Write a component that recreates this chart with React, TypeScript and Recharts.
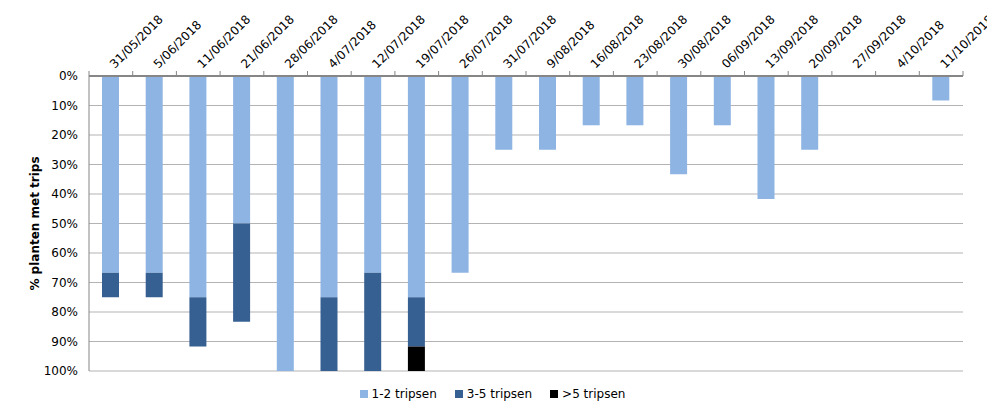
import React from "react";
import {
  BarChart,
  Bar,
  XAxis,
  YAxis,
  CartesianGrid,
  Legend,
} from "recharts";

const dates = [
  "31/05/2018",
  "5/06/2018",
  "11/06/2018",
  "21/06/2018",
  "28/06/2018",
  "4/07/2018",
  "12/07/2018",
  "19/07/2018",
  "26/07/2018",
  "31/07/2018",
  "9/08/2018",
  "16/08/2018",
  "23/08/2018",
  "30/08/2018",
  "06/09/2018",
  "13/09/2018",
  "20/09/2018",
  "27/09/2018",
  "4/10/2018",
  "11/10/2018",
];

// % of plants per class
const tripsen12 = [66.7, 66.7, 75, 50, 100, 75, 66.7, 75, 66.7, 25, 25, 16.7, 16.7, 33.3, 16.7, 41.7, 25, 0, 0, 8.3];
const tripsen35 = [8.3, 8.3, 16.7, 33.3, 0, 25, 33.3, 16.7, 0, 0, 0, 0, 0, 0, 0, 0, 0, 0, 0, 0];
const tripsen5plus = [0, 0, 0, 0, 0, 0, 0, 8.3, 0, 0, 0, 0, 0, 0, 0, 0, 0, 0, 0, 0];

const yTicks = [0, 10, 20, 30, 40, 50, 60, 70, 80, 90, 100];

const series = [
  { key: "t12", name: "1-2 tripsen", color: "#8eb4e3" },
  { key: "t35", name: "3-5 tripsen", color: "#376092" },
  { key: "t5", name: ">5 tripsen", color: "#000000" },
];

const data = dates.map((date, i) => ({
  date,
  t12: tripsen12[i],
  t35: tripsen35[i],
  t5: tripsen5plus[i],
}));

const W = 987;
const H = 396;
const MARGIN = { top: 0, right: 32, bottom: 33, left: 0 };
const Y_AXIS_W = 81;
const X_AXIS_H = 68;
const FONT = "'DejaVu Sans', Verdana, sans-serif";
const AXIS_GREY = "#868686";

// width of one category band, for the boundary tick marks
const STEP = (W - MARGIN.left - MARGIN.right - Y_AXIS_W) / dates.length;

const TopTick = (props: any) => {
  const { x, y, payload, index } = props;
  const last = index === dates.length - 1;
  const tx = x + 4;
  const ty = y - 7;
  return (
    <g>
      <line x1={x - STEP / 2} x2={x - STEP / 2} y1={y} y2={y - 5} stroke={AXIS_GREY} />
      {last && (
        <line x1={x + STEP / 2} x2={x + STEP / 2} y1={y} y2={y - 5} stroke={AXIS_GREY} />
      )}
      <text
        x={tx}
        y={ty}
        transform={`rotate(-45 ${tx} ${ty})`}
        textAnchor="start"
        fontSize={12}
        fontFamily={FONT}
        fill="#000"
      >
        {payload.value}
      </text>
    </g>
  );
};

const YLabel = (props: any) => {
  const { viewBox } = props;
  const cx = 27;
  const cy = viewBox.y + viewBox.height / 2;
  return (
    <text
      x={cx}
      y={cy}
      transform={`rotate(-90 ${cx} ${cy})`}
      textAnchor="middle"
      dominantBaseline="central"
      fontSize={12}
      fontWeight="bold"
      fontFamily={FONT}
      fill="#000"
    >
      % planten met trips
    </text>
  );
};

const LegendContent = () => (
  <div
    style={{
      display: "flex",
      justifyContent: "center",
      fontFamily: FONT,
      fontSize: 12,
      color: "#000",
    }}
  >
    {series.map((s) => (
      <div
        key={s.key}
        style={{ display: "flex", alignItems: "center", marginRight: 18 }}
      >
        <span
          style={{
            display: "inline-block",
            width: 8,
            height: 8,
            background: s.color,
            marginRight: 4,
          }}
        />
        <span>{s.name}</span>
      </div>
    ))}
  </div>
);

export default function App() {
  return (
    <div style={{ width: W, height: H, fontFamily: FONT }}>
      <BarChart width={W} height={H} data={data} margin={MARGIN} barSize={17}>
        <CartesianGrid vertical={false} stroke="#b3b3b3" />
        <XAxis
          dataKey="date"
          orientation="top"
          height={X_AXIS_H}
          interval={0}
          tickLine={false}
          tickSize={0}
          tickMargin={0}
          axisLine={{ stroke: AXIS_GREY, strokeWidth: 2 }}
          tick={<TopTick />}
        />
        <YAxis
          reversed
          domain={[0, 100]}
          ticks={yTicks}
          width={Y_AXIS_W}
          tickLine={false}
          tickMargin={5}
          axisLine={{ stroke: AXIS_GREY }}
          tickFormatter={(v: number) => `${v}%`}
          tick={{ fontSize: 12, fontFamily: FONT, fill: "#000" }}
          label={{ content: <YLabel /> }}
        />
        <Legend
          layout="horizontal"
          verticalAlign="middle"
          align="center"
          content={<LegendContent />}
          wrapperStyle={{ top: 379, left: 10, width: W - 20 }}
        />
        {series.map((s) => (
          <Bar
            key={s.key}
            dataKey={s.key}
            name={s.name}
            stackId="a"
            fill={s.color}
            isAnimationActive={false}
          />
        ))}
      </BarChart>
    </div>
  );
}
